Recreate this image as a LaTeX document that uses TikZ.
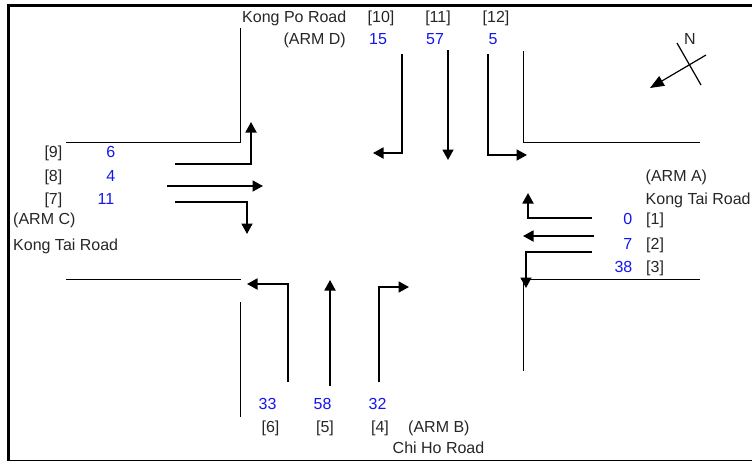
\documentclass[tikz,border=0pt]{standalone}
\usepackage{fontspec}
\setmainfont{Liberation Sans}
\usetikzlibrary{arrows.meta}
\definecolor{countblue}{RGB}{20,20,240}
\tikzset{
  lbl/.style={inner sep=0pt, text=black!85, font=\fontsize{16}{18}\selectfont},
  cnt/.style={lbl, text=countblue},
  kerb/.style={line width=1.1pt},
  mov/.style={line width=1.8pt, -{Triangle[length=10.5pt,width=11pt]}},
}
\begin{document}
\begin{tikzpicture}[x=1pt,y=-1pt]

  \useasboundingbox (0,0) rectangle (752,461);

  % -------------------------
  % Frame
  % -------------------------
  \draw[line width=3pt] (8.5,461) -- (8.5,5.5) -- (752,5.5);
  \draw[line width=1pt] (8.5,460.5) -- (752,460.5);

  % -------------------------
  % Kerb lines
  % -------------------------
  \draw[kerb] (66,142.5) -- (240.5,142.5) -- (240.5,28);
  \draw[kerb] (523.5,51) -- (523.5,142.5) -- (700,142.5);
  \draw[kerb] (66,279.5) -- (241,279.5);
  \draw[kerb] (240.5,302) -- (240.5,417);
  \draw[kerb] (523.5,371) -- (523.5,279.5) -- (700,279.5);

  % -------------------------
  % Arm D
  % -------------------------
  \node[lbl, anchor=base east] (roadD) at (346.5,22) {Kong Po Road};
  \node[lbl, anchor=base east] (armD) at (346,44.5) {(ARM D)};
  \node[lbl, anchor=base] (m10) at (381,22) {[10]};
  \node[lbl, anchor=base] (m11) at (438,22) {[11]};
  \node[lbl, anchor=base] (m12) at (496,22) {[12]};
  \node[cnt, anchor=base] (n10) at (378,44.5) {15};
  \node[cnt, anchor=base] (n11) at (435,44.5) {57};
  \node[cnt, anchor=base] (n12) at (493,44.5) {5};

  \draw[mov] (402,54) -- (402,153) -- (373,153);
  \draw[mov] (448,50) -- (448,160);
  \draw[mov] (488,54) -- (488,155) -- (527,155);

  % -------------------------
  % Arm A
  % -------------------------
  \node[lbl, anchor=base west] (armA) at (645.5,181.5) {(ARM A)};
  \node[lbl, anchor=base west] (roadA) at (645.5,204) {Kong Tai Road};
  \node[cnt, anchor=base east] (n1) at (632.5,224.5) {0};
  \node[cnt, anchor=base east] (n2) at (632.5,249.5) {7};
  \node[cnt, anchor=base east] (n3) at (632.5,272.5) {38};
  \node[lbl, anchor=base west] (m1) at (646,224.5) {[1]};
  \node[lbl, anchor=base west] (m2) at (646,249.5) {[2]};
  \node[lbl, anchor=base west] (m3) at (646,272.5) {[3]};

  \draw[mov] (592,218) -- (528,218) -- (528,193);
  \draw[mov] (594,236) -- (523,236);
  \draw[mov] (592,252) -- (526,252) -- (526,288);

  % -------------------------
  % Arm B
  % -------------------------
  \node[cnt, anchor=base] (n6) at (267.5,409.5) {33};
  \node[cnt, anchor=base] (n5) at (322.5,409.5) {58};
  \node[cnt, anchor=base] (n4) at (377.5,409.5) {32};
  \node[lbl, anchor=base] (m6) at (270.5,432.5) {[6]};
  \node[lbl, anchor=base] (m5) at (325,432.5) {[5]};
  \node[lbl, anchor=base] (m4) at (380,432.5) {[4]};
  \node[lbl, anchor=base west] (armB) at (408,432.5) {(ARM B)};
  \node[lbl, anchor=base west] (roadB) at (392.5,453) {Chi Ho Road};

  \draw[mov] (288,382) -- (288,284) -- (247,284);
  \draw[mov] (330,386) -- (330,280);
  \draw[mov] (379,382) -- (379,287) -- (409,287);

  % -------------------------
  % Arm C
  % -------------------------
  \node[lbl, anchor=base east] (m9) at (62.5,157) {[9]};
  \node[lbl, anchor=base east] (m8) at (62.5,181) {[8]};
  \node[lbl, anchor=base east] (m7) at (62.5,204) {[7]};
  \node[cnt, anchor=base east] (n9) at (115.5,157) {6};
  \node[cnt, anchor=base east] (n8) at (115.5,181) {4};
  \node[cnt, anchor=base east] (n7) at (114.5,204) {11};
  \node[lbl, anchor=base west] (armC) at (13,224) {(ARM C)};
  \node[lbl, anchor=base west] (roadC) at (13,250) {Kong Tai Road};

  \draw[mov] (175,164) -- (251,164) -- (251,122);
  \draw[mov] (167,186) -- (263,186);
  \draw[mov] (175,202) -- (247,202) -- (247,234);

  % -------------------------
  % North sign
  % -------------------------
  \node[lbl, anchor=base] (north) at (690,44) {N};
  \draw[line width=1.2pt] (677,43) -- (701,85);
  \draw[line width=1.2pt, -{Triangle[length=14pt,width=11pt]}] (706,55) -- (650,88);

\end{tikzpicture}
\end{document}
